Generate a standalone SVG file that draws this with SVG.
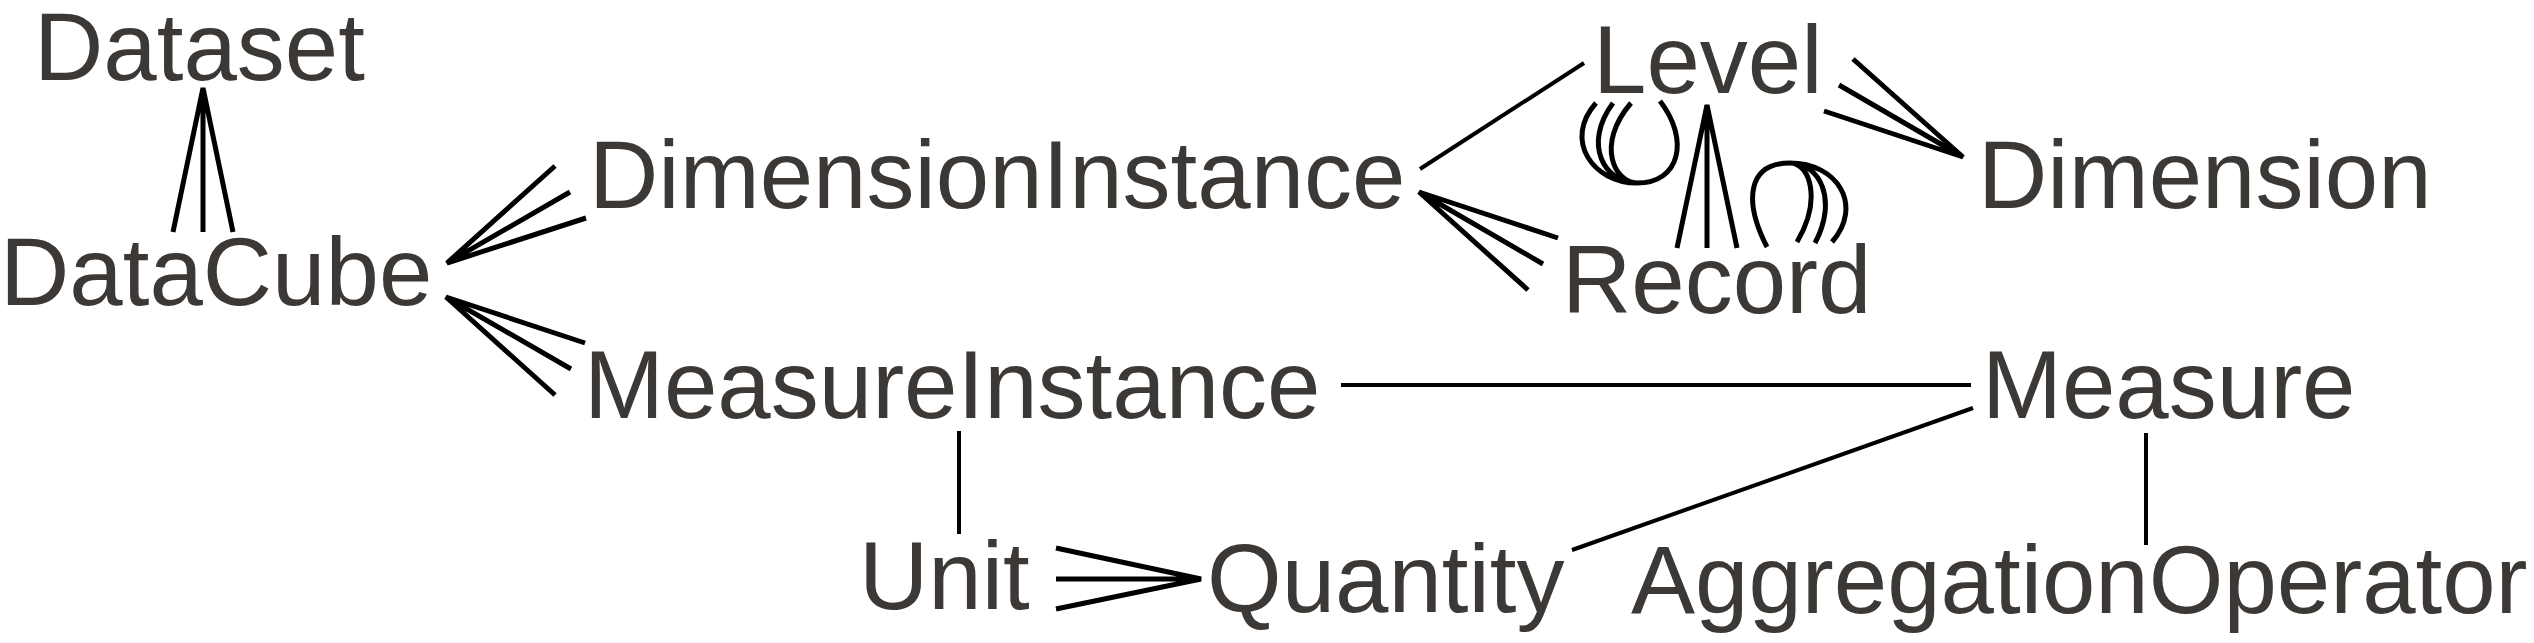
<svg xmlns="http://www.w3.org/2000/svg" width="2534" height="643" viewBox="0 0 2534 643">
<style>
.t{font-family:"Liberation Sans",Arial,sans-serif;font-size:96px;fill:#3b3835}
.c{stroke:#000;stroke-width:5;fill:none}
.p{stroke:#000;stroke-width:4;fill:none}
</style>
<rect width="2534" height="643" fill="#fff"/>
<g id="connectors">
<path class="c" d="M173,232L203,88L233,232M203,88V232"/>
<path class="c" d="M555,166L447,263L586,218M447,263L570,192"/>
<path class="c" d="M585,343L446,297L555,395M446,297L571,369"/>
<path class="p" d="M1420,169L1584,63"/>
<path class="c" d="M1558,238L1419,192L1528,290M1419,192L1543,264"/>
<path class="c" d="M1677,248L1707,105L1737,248M1707,105V248"/>
<path class="c" d="M1853,59L1963,157L1824,111M1963,157L1839,85"/>
<path class="c" d="M1660,101C1690,140 1680,183 1637,183C1615,183 1595,145 1631,103M1637,183C1605,183 1582,145 1613,103M1637,183C1593,183 1563,140 1596,103"/>
<path class="c" d="M1767,247C1743,200 1748,163 1790,163C1810,163 1822,200 1797,242M1790,163C1820,163 1838,200 1815,243M1790,163C1837,163 1864,205 1832,242"/>
<path class="p" d="M1341,385H1971"/>
<path class="p" d="M959,431V534"/>
<path class="c" d="M1056,548L1201,579L1056,609M1056,579H1201"/>
<path class="p" d="M1572,550L1973,408"/>
<path class="p" d="M2146,433V545"/>
</g>
<g id="Dataset"><text class="t" x="34" y="80">Dataset</text></g>
<g id="DataCube"><text class="t" x="0" y="305">DataCube</text></g>
<g id="DimensionInstance"><text class="t" x="589" y="208">DimensionInstance</text></g>
<g id="Level"><text class="t" x="1593" y="93">Level</text></g>
<g id="Dimension"><text class="t" x="1978" y="208">Dimension</text></g>
<g id="Record"><text class="t" x="1562" y="313">Record</text></g>
<g id="MeasureInstance"><text class="t" x="584" y="418">MeasureInstance</text></g>
<g id="Measure"><text class="t" x="1982" y="418">Measure</text></g>
<g id="Unit"><text class="t" x="859" y="609">Unit</text></g>
<g id="Quantity"><text class="t" x="1207" y="612">Quantity</text></g>
<g id="AggregationOperator"><text class="t" x="1631" y="613">AggregationOperator</text></g>
</svg>
